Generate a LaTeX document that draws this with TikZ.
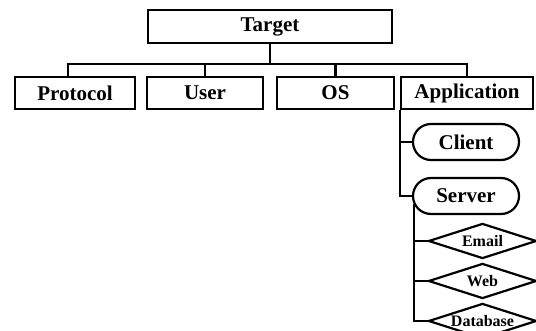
\documentclass[tikz,border=0pt]{standalone}
\usepackage{fontspec}
\setmainfont{Liberation Serif}
\usetikzlibrary{positioning, shapes.misc}

\begin{document}
\begin{tikzpicture}[x=1pt, y=-1pt, line width=2.2pt,
  font=\fontsize{21}{25}\selectfont\bfseries,
  box/.style={draw, rectangle, inner sep=0pt, minimum width=116pt, minimum height=32pt},
  pill/.style={draw, rounded rectangle, inner sep=0pt, minimum width=106pt, minimum height=36pt},
  kind/.style={inner sep=0pt, minimum width=105pt, minimum height=32pt,
    font=\fontsize{16}{19}\selectfont\bfseries},
  link/.style={draw, line width=2.2pt}]

  \useasboundingbox (0,0) rectangle (536,331);
  \clip (0,0) rectangle (536,331);

  % ── root ──
  \node[box, minimum width=244pt, minimum height=33pt] (target) at (270,26.5) {Target};

  % ── first level ──
  \node[box, minimum width=120pt] (protocol) at (75,93) {Protocol};
  \node[box] (user) at (205,93) {User};
  \node[box, minimum width=117pt] (os) at (335.5,93) {OS};
  \node[box, minimum width=132pt] (app) at (467,93) {Application};

  \draw[link] (target.south) -- ++(0,20) coordinate (bus);
  \draw[link] (bus) -| ([xshift=-7pt]protocol.north);
  \foreach \n in {user, os, app}
    \draw[link] (bus) -| (\n.north);

  % ── application branch ──
  \node[pill] (client) at (466,142) {Client};
  \node[pill] (server) at (466,196) {Server};
  \draw[link] (app.south west) |- (client.west);
  \draw[link] (app.south west) |- (server.west);

  % ── server kinds ──
  \node[kind] (email) at (482.5,241) {Email};
  \node[kind] (web) at (482.5,281) {Web};
  \node[kind] (database) at (482.5,321) {Database};
  \foreach \n in {email, web, database} {
    \draw[link] (\n.west) -- (\n.north) -- (\n.east) -- (\n.south) -- cycle;
    \draw[link] (server.189) |- (\n.west);
  }

\end{tikzpicture}
\end{document}
